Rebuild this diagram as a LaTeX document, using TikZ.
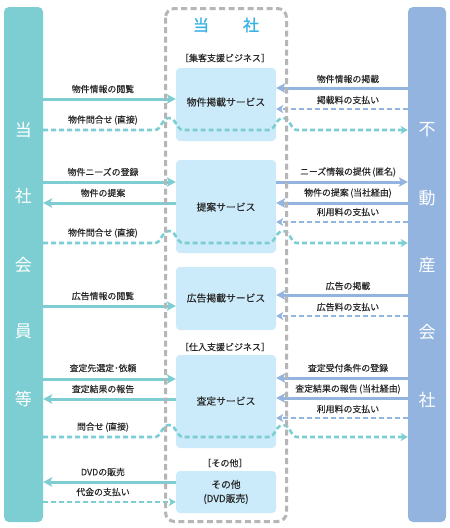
\documentclass[tikz,border=0pt]{standalone}
\usepackage{fontspec}
\setmainfont{Noto Sans CJK JP}
\newfontfamily\medfont{Noto Sans CJK JP}[FakeBold=0.2]
\newfontfamily\headfont{Noto Sans CJK JP}[FakeBold=1.2]
\usetikzlibrary{arrows.meta}
\definecolor{tealc}{RGB}{124,206,210}
\definecolor{bluec}{RGB}{148,180,224}
\definecolor{boxc}{RGB}{204,235,250}
\definecolor{headc}{RGB}{54,178,230}
\definecolor{grayc}{RGB}{182,182,182}
\definecolor{txtc}{RGB}{40,40,40}
\tikzset{
  bar/.style={rounded corners=5pt, minimum height=515pt, inner sep=0pt},
  barch/.style={text=white, font=\fontsize{17}{17}\selectfont, inner sep=0pt},
  svc/.style={fill=boxc, rounded corners=4pt, minimum width=100pt, inner sep=0pt, text=txtc, font=\medfont\fontsize{9.8}{14}\selectfont, align=center},
  lbl/.style={text=txtc, font=\medfont\fontsize{8.9}{10}\selectfont, inner sep=0pt},
  grp/.style={text=txtc, font=\medfont\fontsize{9}{10}\selectfont, inner sep=0pt},
  solidtip/.style={-{Stealth[length=9pt,width=9.5pt,inset=2.2pt]}},
  dashtip/.style={-{Stealth[length=7pt,width=8pt,inset=1.8pt]}},
  tl/.style={draw=tealc, line width=3pt},
  bl/.style={draw=bluec, line width=3pt},
  tld/.style={draw=tealc, line width=2.6pt, dash pattern=on 5pt off 3pt},
  bld/.style={draw=bluec, line width=2.6pt, dash pattern=on 5pt off 3pt},
}
\begin{document}
\begin{tikzpicture}[x=1pt,y=-1pt]
\useasboundingbox (0,0) rectangle (450,528);
\fill[white] (0,0) rectangle (450,528);
% side bars
\node[bar, fill=tealc, minimum width=39pt] (L) at (23.5,264.5) {};
\node[bar, fill=bluec, minimum width=38pt] (R) at (427,264.5) {};
\node[barch] (l1) at (23.5,130) {当};
\node[barch] (l2) at (23.5,196) {社};
\node[barch] (l3) at (23.5,265) {会};
\node[barch] (l4) at (23.5,331) {員};
\node[barch] (l5) at (23.5,399) {等};
\node[barch] (r1) at (427,130) {不};
\node[barch] (r2) at (427,198) {動};
\node[barch] (r3) at (427,265) {産};
\node[barch] (r4) at (427,332) {会};
\node[barch] (r5) at (427,400) {社};
% header
\node[text=headc, font=\headfont\fontsize{16}{16}\selectfont, inner sep=0pt] (h1) at (201,25) {当};
\node[text=headc, font=\headfont\fontsize{16}{16}\selectfont, inner sep=0pt] (h2) at (251,25) {社};
\node[grp] (g1) at (225,58) {［集客支援ビジネス］};
\node[grp] (g2) at (225,347) {［仕入支援ビジネス］};
\node[grp] (g3) at (225,463) {［その他］};
% service boxes
\node[svc, minimum height=73pt] (B1) at (226,104.5) {};
\node[svc, minimum height=93pt] (B2) at (226,206.5) {};
\node[svc, minimum height=63pt] (B3) at (226,298.5) {};
\node[svc, minimum height=93pt] (B4) at (226,401.5) {};
\node[svc, minimum height=42pt] (B5) at (226,492) {};
\node[svc, fill=none] (s1) at (226,102) {物件掲載サービス};
\node[svc, fill=none] (s2) at (226,207) {提案サービス};
\node[svc, fill=none] (s3) at (226,298) {広告掲載サービス};
\node[svc, fill=none] (s4) at (226,401) {査定サービス};
\node[svc, fill=none] (s5) at (226,492) {その他\\(DVD販売)};
% left labels
\node[lbl] (a1) at (103,89) {物件情報の閲覧};
\node[lbl] (a2) at (103,120) {物件問合せ\,(直接)};
\node[lbl] (a3) at (103,172) {物件ニーズの登録};
\node[lbl] (a4) at (103,193) {物件の提案};
\node[lbl] (a5) at (103,233) {物件問合せ\,(直接)};
\node[lbl] (a6) at (103,296) {広告情報の閲覧};
\node[lbl] (a7) at (103,368) {査定先選定･依頼};
\node[lbl] (a8) at (103,389) {査定結果の報告};
\node[lbl] (a9) at (103,427) {問合せ\,(直接)};
\node[lbl] (a10) at (103,472) {DVDの販売};
\node[lbl] (a11) at (103,492) {代金の支払い};
% right labels
\node[lbl] (b1) at (348,79) {物件情報の掲載};
\node[lbl] (b2) at (348,100) {掲載料の支払い};
\node[lbl] (b3) at (348,172) {ニーズ情報の提供\,(匿名)};
\node[lbl] (b4) at (348,193) {物件の提案\,(当社経由)};
\node[lbl] (b5) at (348,212) {利用料の支払い};
\node[lbl] (b6) at (348,286) {広告の掲載};
\node[lbl] (b7) at (348,307) {広告料の支払い};
\node[lbl] (b8) at (348,368) {査定受付条件の登録};
\node[lbl] (b9) at (348,389) {査定結果の報告\,(当社経由)};
\node[lbl] (b10) at (348,409) {利用料の支払い};
% left connectors
\draw[tl, solidtip] (L.east |- 0,99) -- (B1.west |- 0,99);
\draw[tl, solidtip] (L.east |- 0,182) -- (B2.west |- 0,182);
\draw[tl, solidtip] (B2.west |- 0,203) -- (L.east |- 0,203);
\draw[tl, solidtip] (L.east |- 0,306) -- (B3.west |- 0,306);
\draw[tl, solidtip] (L.east |- 0,379) -- (B4.west |- 0,379);
\draw[tl, solidtip] (B4.west |- 0,399) -- (L.east |- 0,399);
\draw[tl, solidtip] (B5.west |- 0,482) -- (L.east |- 0,482);
\draw[tld, dashtip] (L.east |- 0,502) -- (B5.west |- 0,502);
% right connectors
\draw[bl, solidtip] (R.west |- 0,88) -- (B1.east |- 0,88);
\draw[bld, dashtip] (R.west |- 0,109) -- (B1.east |- 0,109);
\draw[bl, solidtip] (B2.east |- 0,182) -- (R.west |- 0,182);
\draw[bl, solidtip] (R.west |- 0,203) -- (B2.east |- 0,203);
\draw[bld, dashtip] (R.west |- 0,222) -- (B2.east |- 0,222);
\draw[bl, solidtip] (R.west |- 0,295) -- (B3.east |- 0,295);
\draw[bld, dashtip] (R.west |- 0,316) -- (B3.east |- 0,316);
\draw[bl, solidtip] (R.west |- 0,378) -- (B4.east |- 0,378);
\draw[bl, solidtip] (R.west |- 0,398) -- (B4.east |- 0,398);
\draw[bld, dashtip] (R.west |- 0,418) -- (B4.east |- 0,418);
% direct inquiries: dashed teal crossing with humps
\foreach \yy in {130,243,437}{
  \draw[tld, dashtip] (L.east |- 0,\yy) -- (155,\yy)
    .. controls (161,\yy) and (162,\yy-12) .. (169,\yy-12)
    .. controls (176,\yy-12) and (177,\yy) .. (183,\yy)
    -- (269,\yy)
    .. controls (275,\yy) and (276,\yy-12) .. (283,\yy-12)
    .. controls (290,\yy-12) and (291,\yy) .. (297,\yy)
    -- (R.west |- 0,\yy);
}
% company frame
\draw[grayc, line width=3pt, dash pattern=on 6pt off 3.5pt, rounded corners=9pt] (165.5,8.5) rectangle (286.5,521.5);
\end{tikzpicture}
\end{document}
